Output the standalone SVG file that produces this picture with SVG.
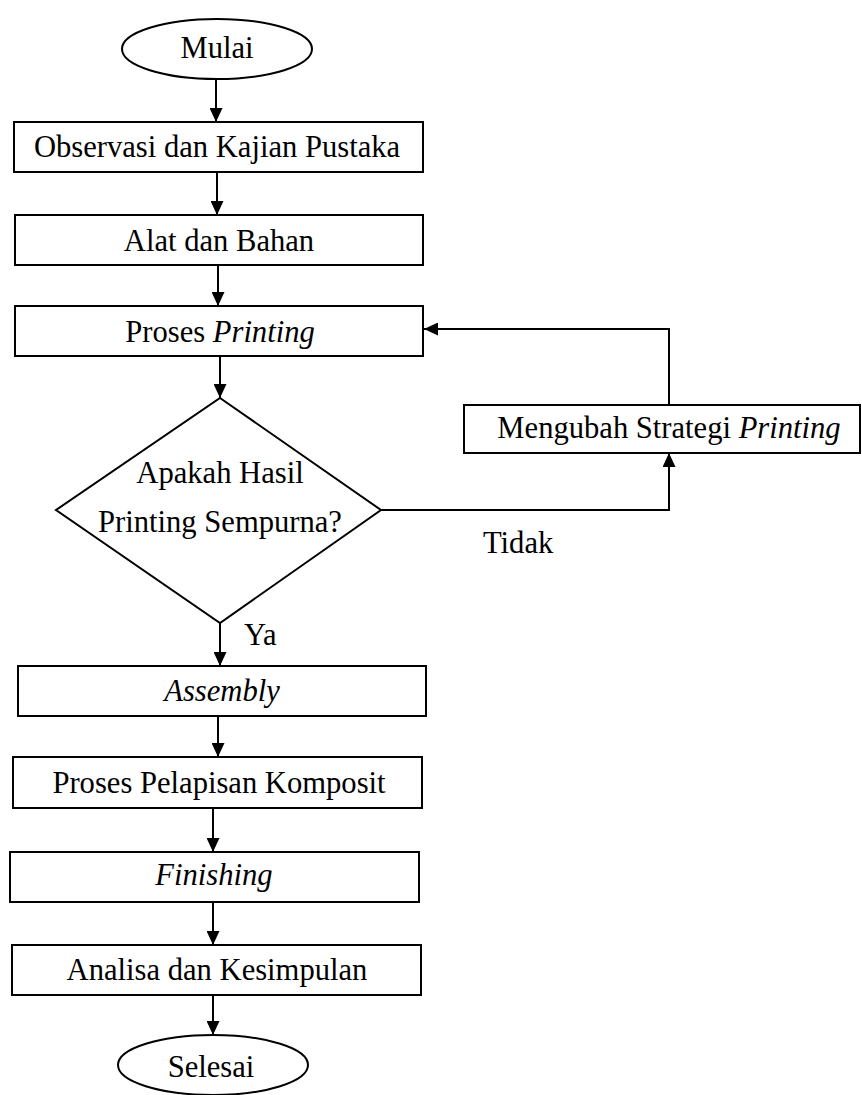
<svg xmlns="http://www.w3.org/2000/svg" width="862" height="1095" viewBox="0 0 862 1095">
<style>
.s{fill:#fff;stroke:#000;stroke-width:2}
.t{font-size:30.6px;fill:#000;text-anchor:middle}
.l{font-size:30.6px;fill:#000}
.c{fill:none;stroke:#000;stroke-width:2}
</style>
<defs>
<marker id="ah" viewBox="0 0 14 13" refX="14" refY="6.5" markerWidth="14" markerHeight="13" markerUnits="userSpaceOnUse" orient="auto">
<path d="M0,0 L14,6.5 L0,13 z" fill="#000"/>
</marker>
</defs>
<rect width="862" height="1095" fill="#fff"/>
<g font-family="'Liberation Serif', 'Times New Roman', Times, serif">
<g id="connectors">
<path class="c" d="M216,79 L216,122" marker-end="url(#ah)"/>
<path class="c" d="M217,172 L217,215" marker-end="url(#ah)"/>
<path class="c" d="M218,265 L218,306" marker-end="url(#ah)"/>
<path class="c" d="M220,356 L220,398" marker-end="url(#ah)"/>
<path class="c" d="M220,623 L220,666" marker-end="url(#ah)"/>
<path class="c" d="M381,510 L669,510 L669,453" marker-end="url(#ah)"/>
<path class="c" d="M669,405 L669,329 L424,329" marker-end="url(#ah)"/>
<path class="c" d="M218,716 L218,757" marker-end="url(#ah)"/>
<path class="c" d="M213,808 L213,852" marker-end="url(#ah)"/>
<path class="c" d="M213,902 L213,945" marker-end="url(#ah)"/>
<path class="c" d="M213,995 L213,1035" marker-end="url(#ah)"/>
<text class="l" x="483" y="553">Tidak</text>
<text class="l" x="244" y="645">Ya</text>
</g>
<g id="mulai">
<ellipse class="s" cx="217" cy="49" rx="95" ry="30"/>
<text class="t" x="217" y="58">Mulai</text>
</g>
<g id="observasi">
<rect class="s" x="14" y="122" width="409" height="50"/>
<text class="t" x="217" y="157">Observasi dan Kajian Pustaka</text>
</g>
<g id="alat">
<rect class="s" x="15" y="215" width="408" height="50"/>
<text class="t" x="219" y="251">Alat dan Bahan</text>
</g>
<g id="proses-printing">
<rect class="s" x="15" y="306" width="408" height="50"/>
<text class="t" x="220" y="342">Proses <tspan font-style="italic">Printing</tspan></text>
</g>
<g id="keputusan">
<polygon class="s" points="220,398 381,510 220,623 56,510"/>
<text class="t" x="220" y="483">Apakah Hasil</text>
<text class="t" x="220" y="532">Printing Sempurna?</text>
</g>
<g id="mengubah">
<rect class="s" x="464" y="405" width="396" height="48"/>
<text class="t" x="669" y="438">Mengubah Strategi <tspan font-style="italic">Printing</tspan></text>
</g>
<g id="assembly">
<rect class="s" x="18" y="666" width="408" height="50"/>
<text class="t" x="222" y="701" font-style="italic">Assembly</text>
</g>
<g id="pelapisan">
<rect class="s" x="13" y="757" width="409" height="51"/>
<text class="t" x="219" y="793">Proses Pelapisan Komposit</text>
</g>
<g id="finishing">
<rect class="s" x="10" y="852" width="409" height="50"/>
<text class="t" x="214" y="885" font-style="italic">Finishing</text>
</g>
<g id="analisa">
<rect class="s" x="12" y="945" width="409" height="50"/>
<text class="t" x="217" y="980">Analisa dan Kesimpulan</text>
</g>
<g id="selesai">
<ellipse class="s" cx="213" cy="1065" rx="95" ry="30"/>
<text class="t" x="211" y="1077">Selesai</text>
</g>
</g>
</svg>
